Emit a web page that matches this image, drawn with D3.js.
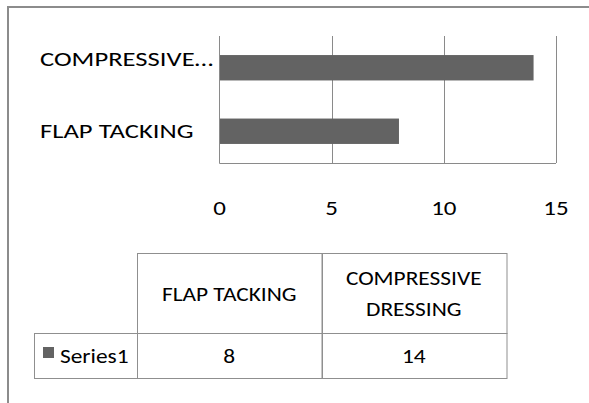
<!DOCTYPE html>
<html>
<head>
<meta charset="utf-8">
<script src="https://cdn.jsdelivr.net/npm/d3@7"></script>
<style>
  html, body { margin: 0; padding: 0; background: #fff; }
  svg { display: block; }
  text { font-family: Carlito, Calibri, Lato, "Open Sans", sans-serif; fill: #000; }
</style>
</head>
<body>
<svg id="chart" width="589" height="403"></svg>
<script>
// Chart data
const categories = ["FLAP TACKING", "COMPRESSIVE DRESSING"];
const series1 = [8, 14];
const seriesName = "Series1";
const xTicks = [0, 5, 10, 15];

const W = 589, H = 403;
const barColor = "#636363";
const gridColor = "#8a8a8a";
const frameColor = "#8c8c8c";

const svg = d3.select("#chart");

// Text drawn with a slightly widened face
function label(parent, px, py, str, size, sx, anchor) {
  const g = parent.append("g")
    .attr("transform", `translate(${px},${py}) scale(${sx},1)`);
  return g.append("text")
    .attr("font-size", size)
    .attr("text-anchor", anchor || "start")
    .text(str);
}

// Outer chart frame (continues past the right and bottom edges)
svg.append("rect")
  .attr("x", 8).attr("y", 7)
  .attr("width", W + 20).attr("height", H + 20)
  .attr("fill", "none")
  .attr("stroke", frameColor)
  .attr("stroke-width", 2);

// Plot area
const plot = { left: 219.5, right: 556, top: 36, bottom: 163 };

const x = d3.scaleLinear().domain([0, 15]).range([plot.left, plot.right]);
// first category sits at the bottom, as in a classic bar chart
const y = d3.scaleBand()
  .domain(categories.slice().reverse())
  .range([plot.top, plot.bottom])
  .paddingInner(0.6)
  .paddingOuter(0.3);

const rows = categories.map((c, i) => ({ cat: c, value: series1[i] }));

// Vertical gridlines
svg.append("g")
  .selectAll("line")
  .data(xTicks.filter(t => t > 0))
  .join("line")
  .attr("x1", d => Math.round(x(d)) + 0.5)
  .attr("x2", d => Math.round(x(d)) + 0.5)
  .attr("y1", plot.top)
  .attr("y2", plot.bottom)
  .attr("stroke", gridColor)
  .attr("stroke-width", 1);

// Axis lines
svg.append("line")
  .attr("x1", x(0)).attr("x2", x(0))
  .attr("y1", plot.top).attr("y2", plot.bottom + 0.5)
  .attr("stroke", gridColor);
svg.append("line")
  .attr("x1", x(0)).attr("x2", x(15))
  .attr("y1", plot.bottom + 0.5).attr("y2", plot.bottom + 0.5)
  .attr("stroke", gridColor);

// Bars
svg.append("g")
  .selectAll("rect")
  .data(rows)
  .join("rect")
  .attr("x", x(0) + 0.5)
  .attr("y", d => y(d.cat))
  .attr("width", d => x(d.value) - x(0) - 0.5)
  .attr("height", y.bandwidth())
  .attr("fill", barColor);

// Value axis tick labels
const tickG = svg.append("g");
xTicks.forEach(t => label(tickG, x(t), 215, t, 21, 1.19, "middle"));

// Category labels, truncated with an ellipsis when too long
const labelX = 40, labelMax = 175, lineH = 17, catSize = 20.5, catSx = 1.3;
const catG = svg.append("g");
rows.forEach(d => {
  const cy = y(d.cat) + y.bandwidth() / 2;
  const t = label(catG, labelX, 0, d.cat, catSize, catSx);
  const g = d3.select(t.node().parentNode);
  if (t.node().getComputedTextLength() * catSx > labelMax) {
    t.text(d.cat.split(" ")[0] + "…");
    g.attr("transform", `translate(${labelX},${cy + 7 - lineH / 2}) scale(${catSx},1)`);
  } else {
    g.attr("transform", `translate(${labelX},${cy + 7}) scale(${catSx},1)`);
  }
});

// Data table
const table = { labelLeft: 34, left: 137, right: 506, headTop: 253, headBottom: 333, rowBottom: 378 };
const col = d3.scaleBand().domain(categories).range([table.left, table.right]);
const tableColor = "#8f8f8f";
const tSize = 19.5, tSx = 1.2;
const tg = svg.append("g");

// header cells
tg.selectAll("rect.head")
  .data(categories)
  .join("rect")
  .attr("class", "head")
  .attr("x", d => Math.round(col(d)) + 0.5)
  .attr("y", table.headTop + 0.5)
  .attr("width", col.bandwidth())
  .attr("height", table.headBottom - table.headTop)
  .attr("fill", "none")
  .attr("stroke", tableColor);

// value cells
tg.selectAll("rect.val")
  .data(rows)
  .join("rect")
  .attr("class", "val")
  .attr("x", d => Math.round(col(d.cat)) + 0.5)
  .attr("y", table.headBottom + 0.5)
  .attr("width", col.bandwidth())
  .attr("height", table.rowBottom - table.headBottom)
  .attr("fill", "none")
  .attr("stroke", tableColor);

// series label cell
tg.append("rect")
  .attr("x", table.labelLeft + 0.5)
  .attr("y", table.headBottom + 0.5)
  .attr("width", table.left - table.labelLeft)
  .attr("height", table.rowBottom - table.headBottom)
  .attr("fill", "none")
  .attr("stroke", tableColor);

// header text, wrapped to the column width
const headCy = (table.headTop + table.headBottom) / 2;
const headLineH = 30.5;
categories.forEach(c => {
  const cx = col(c) + col.bandwidth() / 2;
  const probe = label(tg, 0, 0, c, tSize, tSx);
  const fits = probe.node().getComputedTextLength() * tSx < col.bandwidth() - 20;
  d3.select(probe.node().parentNode).remove();
  const lines = fits ? [c] : c.split(" ");
  lines.forEach((ln, i) => {
    label(tg, cx, headCy + 7.5 + (i - (lines.length - 1) / 2) * headLineH, ln, tSize, tSx, "middle");
  });
});

// value text
const rowCy = (table.headBottom + table.rowBottom) / 2;
rows.forEach(d => {
  label(tg, col(d.cat) + col.bandwidth() / 2, rowCy + 7.5, d.value, tSize, tSx, "middle");
});

// legend key + series name
tg.append("rect")
  .attr("x", 43).attr("y", rowCy - 8.5)
  .attr("width", 11).attr("height", 11)
  .attr("fill", barColor);
label(tg, 60, rowCy + 7.5, seriesName, tSize, tSx);
</script>
</body>
</html>
